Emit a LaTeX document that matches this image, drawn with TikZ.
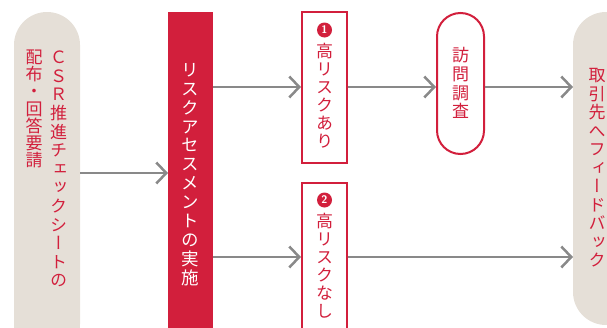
\documentclass[tikz,border=0pt]{standalone}
\usepackage{fontspec}
\usepackage{graphicx}
\newfontfamily\jpv{Noto Sans CJK JP}[RawFeature=+vert]
\usetikzlibrary{arrows.meta}
\definecolor{cred}{HTML}{D21F3C}
\definecolor{cbeige}{HTML}{E5DFD7}
\definecolor{cgray}{HTML}{898989}
\tikzset{
  arr/.style={draw=cgray, line width=2.5pt, -{Straight Barb[length=10pt,width=21pt]}},
  pillbg/.style={fill=cbeige, inner sep=0pt, outer sep=0pt, minimum width=66pt, rounded corners=33pt},
  redbox/.style={fill=cred, inner sep=0pt, outer sep=0pt},
  outbox/.style={draw=cred, line width=2pt, fill=white, inner sep=0pt},
  vtxt/.style={align=center, inner sep=0pt, text=cred},
  numc/.style={circle, fill=cred, text=white, minimum size=15pt, inner sep=0pt, font=\sffamily\bfseries\fontsize{11}{11}\selectfont},
}
\begin{document}
\begin{tikzpicture}[x=1pt,y=-1pt]
\path[use as bounding box, clip] (0,0) rectangle (607,327);
% shapes
\node[pillbg, minimum height=345pt, anchor=north] (lp) at (47,12) {};
\node[redbox, minimum width=45pt, minimum height=330pt, anchor=north] (rb) at (190.5,12) {};
\node[outbox, minimum width=45pt, minimum height=151pt, anchor=north] (b1) at (324.5,11) {};
\node[outbox, minimum width=45pt, minimum height=170pt, anchor=north] (b2) at (324.5,182) {};
\node[outbox, minimum width=47pt, minimum height=141pt, rounded corners=23.5pt] (vp) at (460.5,83.5) {};
\node[pillbg, minimum height=313pt, anchor=north] (rp) at (606,12) {};
% numbers
\node[numc] (n1) at (324.5,30) {1};
\node[numc] (n2) at (324.5,200) {2};
% texts
\node[vtxt, font=\jpv\fontsize{17}{17.2}\selectfont] (lt1) at (34,109) {配\\布\\・\\回\\答\\要\\請};
\node[vtxt, font=\jpv\fontsize{17}{18.6}\selectfont] (lt2) at (58.5,169) {Ｃ\\Ｓ\\Ｒ\\推\\進\\チ\\ェ\\ッ\\ク\\シ\\ー\\ト\\の};
\node[vtxt, text=white, font=\jpv\fontsize{17.5}{18.9}\selectfont] (rt) at (190.5,174.5) {リ\\ス\\ク\\ア\\セ\\ス\\メ\\ン\\ト\\の\\実\\施};
\node[vtxt, font=\jpv\fontsize{17}{18}\selectfont] (b1t) at (324.5,95.5) {高\\リ\\ス\\ク\\あ\\り};
\node[vtxt, font=\jpv\fontsize{17}{18}\selectfont] (b2t) at (324.5,265.5) {高\\リ\\ス\\ク\\な\\し};
\node[vtxt, font=\jpv\fontsize{17}{18.9}\selectfont] (vt) at (460.5,83) {訪\\問\\調\\査};
\node[vtxt, font=\jpv\fontsize{17}{18.5}\selectfont] (rpt) at (597,168) {取\\引\\先\\へ\\フ\\ィ\\ー\\ド\\バ\\ッ\\ク};
% arrow rows
\coordinate (ya) at (0,173);
\coordinate (yb) at (0,87);
\coordinate (yc) at (0,257);
\draw[arr] (lp.east |- ya) -- (rb.west |- ya);
\draw[arr] (rb.east |- yb) -- (b1.west |- yb);
\draw[arr] (rb.east |- yc) -- (b2.west |- yc);
\draw[arr] (b1.east |- yb) -- (vp.west |- yb);
\draw[arr] (vp.east |- yb) -- (rp.west |- yb);
\draw[arr] (b2.east |- yc) -- (rp.west |- yc);
\end{tikzpicture}
\end{document}
